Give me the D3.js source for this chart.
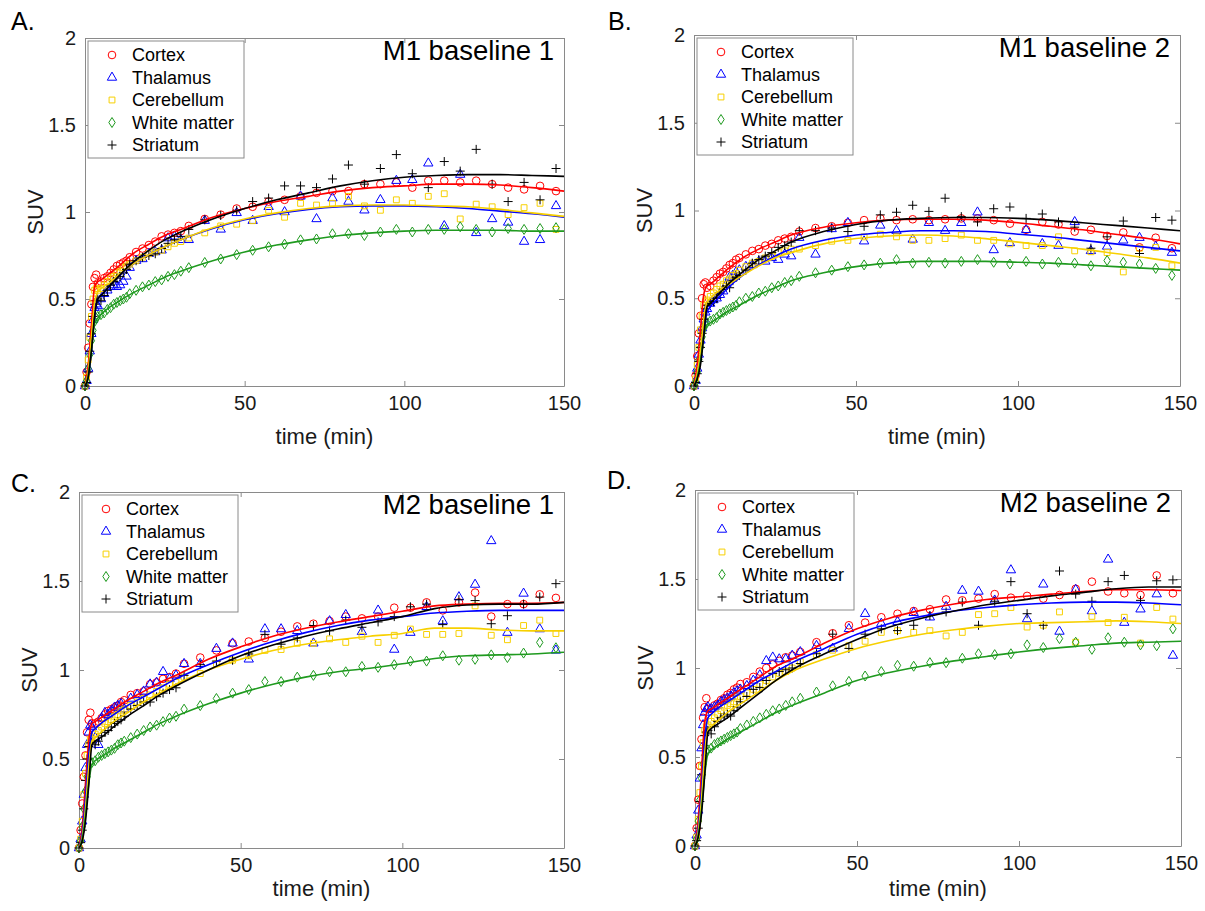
<!DOCTYPE html>
<html><head><meta charset="utf-8">
<script src="https://cdn.jsdelivr.net/npm/d3@7"></script>
<style>body{margin:0;background:#fff;} svg{display:block;font-family:"Liberation Sans",Arial,Helvetica,sans-serif;}</style>
</head><body><svg id="chart" width="1205" height="911"></svg>
<script>
// ---------- shared axes data ----------
const earlyTimes = [0, 0.5, 1, 1.5, 2, 2.5, 3, 3.5, 4, 5, 6, 7, 8, 9, 10, 11, 12, 13, 14, 16, 18, 20, 22, 24, 26, 28, 30];
const lateTimes = [32.5, 37.5, 42.5, 47.5, 52.5, 57.5, 62.5, 67.5, 72.5, 77.5, 82.5, 87.5, 92.5, 97.5, 102.5, 107.5, 112.5, 117.5, 122.5, 127.5, 132.5, 137.5, 142.5, 147.5];
const fitTimes = [0, 1, 2, 3, 4, 5, 7.5, 10, 15, 20, 25, 30, 40, 50, 60, 70, 80, 90, 100, 110, 120, 130, 140, 150];
const regionNames = ["Cortex", "Thalamus", "Cerebellum", "White matter", "Striatum"];
const regionColors = ["#ff0000", "#0000ff", "#f7d000", "#1f9a1f", "#000000"];
const xTicks = [0, 50, 100, 150];
const yTicks = [0, 0.5, 1, 1.5, 2];
const xLabel = "time (min)";
const yLabel = "SUV";

// ---------- Panel A : M1 baseline 1 ----------
const A_cortex = [0,0.08,0.22,0.36,0.47,0.57,0.62,0.64,0.59,0.60,0.62,0.63,0.65,0.67,0.69,0.70,0.71,0.72,0.74,0.77,0.79,0.81,0.83,0.86,0.87,0.88,0.89,
  0.92,0.96,0.985,1.02,1.03,1.06,1.07,1.09,1.11,1.12,1.12,1.16,1.16,1.17,1.14,1.18,1.18,1.17,1.18,1.16,1.14,1.13,1.15,1.12];
const A_thalamus = [0,0.03,0.1,0.2,0.3,0.38,0.45,0.47,0.46,0.50,0.53,0.55,0.57,0.58,0.57,0.58,0.60,0.63,0.68,0.72,0.73,0.76,0.77,0.78,0.85,0.86,0.84,
  0.84,0.95,0.90,0.995,0.95,1.03,1.00,1.09,0.96,1.08,1.06,1.01,1.07,1.18,1.185,1.28,0.92,1.215,0.88,0.96,0.94,0.83,0.84,1.035];
const A_cerebellum = [0,0.05,0.15,0.28,0.4,0.5,0.55,0.56,0.55,0.56,0.58,0.60,0.62,0.63,0.65,0.66,0.68,0.69,0.70,0.72,0.74,0.76,0.77,0.78,0.80,0.82,0.83,
  0.85,0.88,0.92,0.93,0.95,1.01,0.97,1.05,1.04,1.05,1.09,1.035,1.01,1.07,1.05,1.09,1.105,0.96,1.045,1.03,0.985,1.025,1.05,0.90];
const A_white = [0,0.03,0.1,0.18,0.26,0.32,0.37,0.39,0.40,0.41,0.42,0.44,0.45,0.47,0.48,0.49,0.50,0.51,0.53,0.55,0.57,0.58,0.60,0.61,0.63,0.64,0.66,
  0.68,0.71,0.73,0.755,0.78,0.80,0.815,0.84,0.845,0.875,0.875,0.865,0.885,0.90,0.885,0.90,0.90,0.915,0.90,0.885,0.905,0.90,0.905,0.91];
const A_striatum = [0,0.02,0.08,0.2,0.3,0.4,0.47,0.49,0.50,0.49,0.52,0.55,0.58,0.60,0.62,0.63,0.65,0.67,0.70,0.72,0.74,0.75,0.76,0.79,0.82,0.84,0.86,
  0.90,0.955,0.98,1.01,1.06,1.08,1.15,1.15,1.14,1.19,1.27,1.16,1.25,1.33,1.22,1.14,1.29,1.235,1.36,1.16,1.06,1.17,1.07,1.25];
const A_fitCortex = [0,0.12,0.35,0.57,0.60,0.61,0.645,0.68,0.76,0.815,0.865,0.90,0.97,1.02,1.06,1.09,1.12,1.14,1.15,1.16,1.16,1.155,1.14,1.12];
const A_fitThalamus = [0,0.05,0.2,0.4,0.50,0.52,0.57,0.62,0.70,0.755,0.80,0.84,0.905,0.955,0.99,1.015,1.03,1.035,1.035,1.03,1.02,1.005,0.99,0.97];
const A_fitCerebellum = [0,0.08,0.28,0.48,0.54,0.56,0.59,0.63,0.70,0.755,0.80,0.84,0.91,0.96,0.995,1.02,1.035,1.04,1.04,1.035,1.03,1.015,0.995,0.975];
const A_fitWhite = [0,0.06,0.2,0.36,0.39,0.41,0.45,0.48,0.535,0.58,0.625,0.66,0.72,0.77,0.81,0.84,0.865,0.88,0.89,0.895,0.895,0.895,0.89,0.89];
const A_fitStriatum = [0,0.05,0.2,0.4,0.50,0.52,0.57,0.62,0.71,0.78,0.84,0.885,0.96,1.02,1.07,1.11,1.15,1.18,1.20,1.21,1.215,1.215,1.21,1.205];

// ---------- Panel B : M1 baseline 2 ----------
const B_cortex = [0,0.06,0.17,0.3,0.4,0.5,0.58,0.59,0.56,0.57,0.60,0.62,0.64,0.65,0.67,0.69,0.70,0.72,0.73,0.75,0.77,0.78,0.80,0.81,0.83,0.84,0.85,
  0.88,0.90,0.91,0.93,0.945,0.955,0.945,0.95,0.945,0.95,0.955,0.955,0.945,0.925,0.89,0.935,0.92,0.88,0.89,0.855,0.875,0.79,0.845,0.785];
const B_thalamus = [0,0.03,0.1,0.18,0.26,0.33,0.38,0.42,0.44,0.47,0.49,0.50,0.52,0.54,0.58,0.62,0.63,0.65,0.66,0.68,0.69,0.71,0.71,0.73,0.72,0.75,0.74,
  0.845,0.75,0.895,0.93,0.825,0.915,0.885,0.835,0.93,0.885,0.93,0.99,0.775,0.815,0.89,0.81,0.80,0.935,0.77,0.795,0.83,0.845,0.795,0.76];
const B_cerebellum = [0,0.04,0.12,0.22,0.32,0.4,0.46,0.48,0.49,0.51,0.53,0.55,0.57,0.58,0.60,0.61,0.63,0.64,0.66,0.68,0.70,0.71,0.73,0.74,0.76,0.77,0.78,
  0.78,0.80,0.825,0.83,0.85,0.865,0.85,0.83,0.83,0.84,0.86,0.83,0.83,0.81,0.80,0.80,0.85,0.77,0.765,0.76,0.65,0.785,0.79,0.685];
const B_white = [0,0.02,0.08,0.15,0.22,0.28,0.33,0.35,0.36,0.37,0.38,0.39,0.41,0.42,0.43,0.44,0.45,0.46,0.48,0.50,0.51,0.53,0.54,0.56,0.57,0.59,0.60,
  0.625,0.645,0.66,0.68,0.69,0.70,0.72,0.70,0.705,0.70,0.71,0.72,0.705,0.695,0.71,0.695,0.705,0.70,0.685,0.715,0.705,0.695,0.67,0.63];
const B_striatum = [0,0.02,0.07,0.14,0.22,0.3,0.38,0.44,0.46,0.47,0.48,0.50,0.53,0.55,0.57,0.56,0.60,0.62,0.63,0.66,0.70,0.72,0.74,0.76,0.79,0.80,0.82,
  0.885,0.885,0.90,0.88,0.91,0.975,0.99,1.03,0.995,1.07,0.965,0.935,1.01,1.02,0.955,0.98,0.935,0.905,0.785,0.85,0.94,0.755,0.96,0.945];
const B_fitCortex = [0,0.12,0.32,0.52,0.57,0.58,0.62,0.66,0.73,0.78,0.82,0.86,0.905,0.93,0.945,0.95,0.95,0.945,0.93,0.91,0.89,0.865,0.84,0.81];
const B_fitThalamus = [0,0.05,0.15,0.3,0.42,0.45,0.5,0.55,0.63,0.69,0.74,0.78,0.83,0.86,0.875,0.885,0.885,0.88,0.865,0.85,0.83,0.81,0.79,0.77];
const B_fitCerebellum = [0,0.07,0.2,0.38,0.48,0.5,0.54,0.57,0.63,0.685,0.73,0.76,0.81,0.84,0.855,0.86,0.855,0.84,0.82,0.80,0.78,0.755,0.73,0.70];
const B_fitWhite = [0,0.05,0.14,0.28,0.35,0.36,0.39,0.42,0.47,0.52,0.56,0.60,0.645,0.68,0.70,0.71,0.71,0.71,0.705,0.70,0.69,0.68,0.67,0.66];
const B_fitStriatum = [0,0.04,0.12,0.28,0.45,0.47,0.52,0.57,0.65,0.72,0.77,0.82,0.88,0.92,0.945,0.955,0.96,0.96,0.955,0.945,0.93,0.915,0.90,0.885];

// ---------- Panel C : M2 baseline 1 ----------
const C_cortex = [0,0.1,0.25,0.4,0.52,0.65,0.72,0.76,0.70,0.70,0.71,0.73,0.75,0.77,0.78,0.79,0.80,0.82,0.83,0.86,0.87,0.88,0.92,0.93,0.95,0.96,0.98,
  1.035,1.07,1.11,1.15,1.16,1.18,1.215,1.245,1.26,1.275,1.30,1.29,1.30,1.35,1.35,1.38,1.335,1.38,1.435,1.30,1.37,1.37,1.425,1.405];
const C_thalamus = [0,0.05,0.15,0.3,0.45,0.58,0.65,0.69,0.68,0.62,0.58,0.73,0.76,0.75,0.77,0.79,0.80,0.81,0.78,0.84,0.86,0.88,0.92,0.93,0.99,0.95,0.97,
  1.035,1.035,1.12,1.15,1.06,1.23,1.23,1.22,1.15,1.275,1.31,1.215,1.335,1.115,1.21,1.355,1.275,1.41,1.48,1.725,1.21,1.43,1.23,1.11];
const C_cerebellum = [0,0.05,0.15,0.3,0.42,0.52,0.58,0.61,0.62,0.64,0.66,0.68,0.70,0.71,0.72,0.74,0.75,0.77,0.78,0.80,0.82,0.84,0.86,0.88,0.90,0.92,0.93,
  0.96,0.98,1.035,1.055,1.08,1.11,1.115,1.15,1.15,1.175,1.155,1.19,1.155,1.195,1.23,1.20,1.20,1.205,1.36,1.195,1.17,1.25,1.28,1.205];
const C_white = [0,0.04,0.12,0.22,0.32,0.4,0.46,0.48,0.48,0.49,0.51,0.52,0.53,0.54,0.55,0.56,0.58,0.59,0.60,0.62,0.64,0.66,0.68,0.69,0.71,0.73,0.74,
  0.78,0.80,0.84,0.87,0.89,0.935,0.935,0.96,0.97,0.99,0.99,1.02,1.015,1.03,1.05,1.05,1.08,1.055,1.06,1.085,1.07,1.095,1.155,1.125];
const C_striatum = [0,0.03,0.1,0.22,0.38,0.5,0.57,0.59,0.59,0.58,0.60,0.63,0.65,0.66,0.68,0.70,0.71,0.72,0.74,0.78,0.80,0.82,0.82,0.85,0.87,0.89,0.90,
  0.97,1.03,1.05,1.055,1.09,1.20,1.145,1.18,1.25,1.22,1.28,1.24,1.27,1.30,1.355,1.37,1.255,1.395,1.39,1.26,1.305,1.37,1.41,1.485];
const C_fitCortex = [0,0.12,0.36,0.6,0.70,0.71,0.74,0.77,0.83,0.88,0.93,0.97,1.06,1.13,1.19,1.235,1.27,1.30,1.33,1.36,1.37,1.375,1.375,1.38];
const C_fitThalamus = [0,0.08,0.28,0.52,0.65,0.67,0.71,0.74,0.80,0.85,0.90,0.95,1.03,1.10,1.16,1.21,1.25,1.28,1.30,1.32,1.33,1.335,1.335,1.335];
const C_fitCerebellum = [0,0.06,0.22,0.45,0.60,0.62,0.66,0.70,0.76,0.82,0.87,0.92,1.00,1.06,1.11,1.145,1.17,1.19,1.205,1.235,1.235,1.225,1.22,1.22];
const C_fitWhite = [0,0.05,0.18,0.36,0.47,0.49,0.52,0.55,0.60,0.65,0.70,0.74,0.81,0.87,0.92,0.96,0.99,1.01,1.035,1.065,1.08,1.085,1.09,1.10];
const C_fitStriatum = [0,0.04,0.15,0.35,0.58,0.60,0.63,0.67,0.74,0.80,0.86,0.91,1.00,1.08,1.14,1.19,1.23,1.265,1.30,1.345,1.365,1.37,1.37,1.38];

// ---------- Panel D : M2 baseline 2 ----------
const D_cortex = [0,0.1,0.26,0.45,0.6,0.72,0.78,0.83,0.77,0.77,0.79,0.80,0.82,0.83,0.85,0.86,0.88,0.89,0.91,0.92,0.95,0.98,1.0,1.02,1.04,1.06,1.07,
  1.09,1.145,1.195,1.24,1.255,1.285,1.305,1.32,1.33,1.385,1.38,1.39,1.415,1.395,1.405,1.39,1.41,1.445,1.485,1.43,1.42,1.41,1.52,1.42];
const D_thalamus = [0,0.06,0.2,0.38,0.55,0.68,0.75,0.77,0.78,0.77,0.78,0.79,0.81,0.82,0.83,0.84,0.86,0.87,0.88,0.90,0.93,0.96,1.04,1.06,1.05,1.05,1.07,
  1.09,1.125,1.11,1.22,1.305,1.25,1.26,1.31,1.285,1.345,1.435,1.43,1.38,1.55,1.275,1.47,1.205,1.44,1.32,1.61,1.255,1.33,1.415,1.07];
const D_cerebellum = [0,0.05,0.15,0.3,0.45,0.58,0.65,0.67,0.68,0.70,0.72,0.74,0.76,0.78,0.79,0.80,0.81,0.83,0.84,0.86,0.88,0.91,0.93,0.95,0.97,0.98,1.0,
  1.035,1.075,1.10,1.125,1.15,1.20,1.21,1.20,1.21,1.18,1.20,1.30,1.305,1.34,1.23,1.24,1.315,1.145,1.29,1.255,1.285,1.14,1.34,1.275];
const D_white = [0,0.04,0.14,0.26,0.38,0.46,0.51,0.53,0.54,0.55,0.57,0.58,0.59,0.60,0.61,0.62,0.63,0.64,0.66,0.68,0.70,0.72,0.74,0.76,0.77,0.79,0.81,
  0.83,0.865,0.90,0.925,0.955,0.98,1.015,1.01,1.03,1.03,1.055,1.08,1.075,1.08,1.13,1.115,1.165,1.145,1.105,1.17,1.145,1.13,1.125,1.22];
const D_striatum = [0,0.03,0.1,0.25,0.4,0.55,0.62,0.64,0.65,0.63,0.67,0.70,0.72,0.73,0.74,0.73,0.76,0.78,0.81,0.84,0.88,0.89,0.93,0.97,0.98,0.99,1.0,
  1.025,1.08,1.19,1.11,1.19,1.22,1.21,1.24,1.295,1.315,1.37,1.24,1.375,1.485,1.305,1.24,1.545,1.415,1.375,1.485,1.52,1.38,1.49,1.495];
const D_fitCortex = [0,0.15,0.42,0.70,0.76,0.77,0.80,0.83,0.89,0.95,1.01,1.05,1.14,1.22,1.28,1.325,1.36,1.385,1.40,1.415,1.43,1.44,1.44,1.435];
const D_fitThalamus = [0,0.1,0.32,0.6,0.72,0.74,0.78,0.81,0.87,0.93,0.98,1.03,1.11,1.19,1.25,1.29,1.32,1.34,1.355,1.365,1.37,1.37,1.365,1.355];
const D_fitCerebellum = [0,0.08,0.26,0.52,0.65,0.67,0.71,0.75,0.81,0.87,0.93,0.98,1.05,1.11,1.155,1.19,1.215,1.235,1.25,1.255,1.26,1.265,1.26,1.25];
const D_fitWhite = [0,0.06,0.2,0.4,0.52,0.54,0.57,0.60,0.65,0.70,0.75,0.79,0.86,0.93,0.975,1.01,1.04,1.065,1.09,1.11,1.125,1.14,1.145,1.15];
const D_fitStriatum = [0,0.05,0.18,0.4,0.64,0.66,0.69,0.72,0.79,0.86,0.93,0.99,1.08,1.16,1.23,1.28,1.32,1.355,1.38,1.405,1.425,1.445,1.455,1.455];

const frameTimes = earlyTimes.concat(lateTimes);

const panels = [
  {letter: "A.", title: "M1 baseline 1", frame: {l: 85, r: 564, t: 38, b: 386}, lp: {x: 11, y: 30}, xlabOff: 58,
   points: [A_cortex, A_thalamus, A_cerebellum, A_white, A_striatum],
   fits: [A_fitCortex, A_fitThalamus, A_fitCerebellum, A_fitWhite, A_fitStriatum]},
  {letter: "B.", title: "M1 baseline 2", frame: {l: 694, r: 1180, t: 35, b: 386}, lp: {x: 608, y: 30}, xlabOff: 58,
   points: [B_cortex, B_thalamus, B_cerebellum, B_white, B_striatum],
   fits: [B_fitCortex, B_fitThalamus, B_fitCerebellum, B_fitWhite, B_fitStriatum]},
  {letter: "C.", title: "M2 baseline 1", frame: {l: 79, r: 564, t: 492, b: 848}, lp: {x: 11, y: 492}, xlabOff: 48,
   points: [C_cortex, C_thalamus, C_cerebellum, C_white, C_striatum],
   fits: [C_fitCortex, C_fitThalamus, C_fitCerebellum, C_fitWhite, C_fitStriatum]},
  {letter: "D.", title: "M2 baseline 2", frame: {l: 695, r: 1181, t: 490, b: 846}, lp: {x: 607, y: 489}, xlabOff: 50,
   points: [D_cortex, D_thalamus, D_cerebellum, D_white, D_striatum],
   fits: [D_fitCortex, D_fitThalamus, D_fitCerebellum, D_fitWhite, D_fitStriatum]}
];

const svg = d3.select("#chart");
const frameColor = "#8a8a8a";

function markerPath(i) {
  if (i === 0) return d3.symbol(d3.symbolCircle, 46)();
  if (i === 1) return d3.symbol(d3.symbolTriangle, 38)();
  if (i === 2) return d3.symbol(d3.symbolSquare, 34)();
  if (i === 3) return "M0,-5L3.2,0L0,5L-3.2,0Z";
  return "M-4.5,0H4.5M0,-4.5V4.5";
}

panels.forEach(p => {
  const f = p.frame;
  const x = d3.scaleLinear().domain([0, 150]).range([f.l, f.r]);
  const y = d3.scaleLinear().domain([0, 2]).range([f.b, f.t]);
  const g = svg.append("g");

  // panel letter
  g.append("text").attr("x", p.lp.x).attr("y", p.lp.y).attr("font-size", 25).attr("fill", "#000").text(p.letter);

  // axes (MATLAB style: inward ticks, box)
  const axB = d3.axisBottom(x).tickValues(xTicks).tickSize(-5).tickSizeOuter(0).tickPadding(10).tickFormat(d3.format("d"));
  const axT = d3.axisTop(x).tickValues(xTicks).tickSize(-5).tickSizeOuter(0).tickFormat("");
  const axL = d3.axisLeft(y).tickValues(yTicks).tickSize(-5).tickSizeOuter(0).tickPadding(9).tickFormat(d => String(d));
  const axR = d3.axisRight(y).tickValues(yTicks).tickSize(-5).tickSizeOuter(0).tickFormat("");
  const gb = g.append("g").attr("transform", `translate(0,${f.b})`).call(axB);
  const gt = g.append("g").attr("transform", `translate(0,${f.t})`).call(axT);
  const gl = g.append("g").attr("transform", `translate(${f.l},0)`).call(axL);
  const gr = g.append("g").attr("transform", `translate(${f.r},0)`).call(axR);
  [gb, gt, gl, gr].forEach(a => {
    a.select(".domain").attr("stroke", frameColor).attr("stroke-width", 1);
    a.selectAll(".tick line").attr("stroke", frameColor);
    a.selectAll(".tick text").attr("font-size", 20).attr("fill", "#1a1a1a").attr("font-family", "Liberation Sans, Arial, sans-serif");
  });

  // axis labels
  g.append("text").attr("x", (f.l + f.r) / 2).attr("y", f.b + p.xlabOff).attr("text-anchor", "middle")
    .attr("font-size", 22).attr("fill", "#1a1a1a").text(xLabel);
  g.append("text").attr("transform", `translate(${f.l - 42},${(f.t + f.b) / 2}) rotate(-90)`)
    .attr("text-anchor", "middle").attr("font-size", 22).attr("fill", "#1a1a1a").text(yLabel);

  // markers
  p.points.forEach((vals, si) => {
    g.append("g").selectAll("path").data(vals.map((v, k) => [frameTimes[k], v])).join("path")
      .attr("transform", d => `translate(${x(d[0])},${y(d[1])})`)
      .attr("d", markerPath(si))
      .attr("fill", "none").attr("stroke", regionColors[si]).attr("stroke-width", 1);
  });

  // fitted curves
  const line = d3.line().x(d => x(d[0])).y(d => y(d[1])).curve(d3.curveMonotoneX);
  p.fits.forEach((vals, si) => {
    g.append("path").datum(vals.map((v, k) => [fitTimes[k], v]))
      .attr("d", line).attr("fill", "none").attr("stroke", regionColors[si]).attr("stroke-width", 1.6);
  });

  // title
  g.append("text").attr("x", f.r - 10).attr("y", f.t + 22).attr("text-anchor", "end")
    .attr("font-size", 27.5).attr("fill", "#000").text(p.title);

  // legend
  const lg = g.append("g").attr("transform", `translate(${f.l + 3},${f.t + 3})`);
  lg.append("rect").attr("width", 156).attr("height", 117).attr("fill", "#fff").attr("stroke", frameColor).attr("stroke-width", 1);
  regionNames.forEach((name, si) => {
    const ry = 14 + si * 22.5;
    lg.append("path").attr("transform", `translate(24,${ry})`).attr("d", markerPath(si))
      .attr("fill", "none").attr("stroke", regionColors[si]).attr("stroke-width", 1);
    lg.append("text").attr("x", 44).attr("y", ry).attr("dy", "0.36em").attr("font-size", 18).attr("fill", "#000").text(name);
  });
});
</script>
</body></html>
